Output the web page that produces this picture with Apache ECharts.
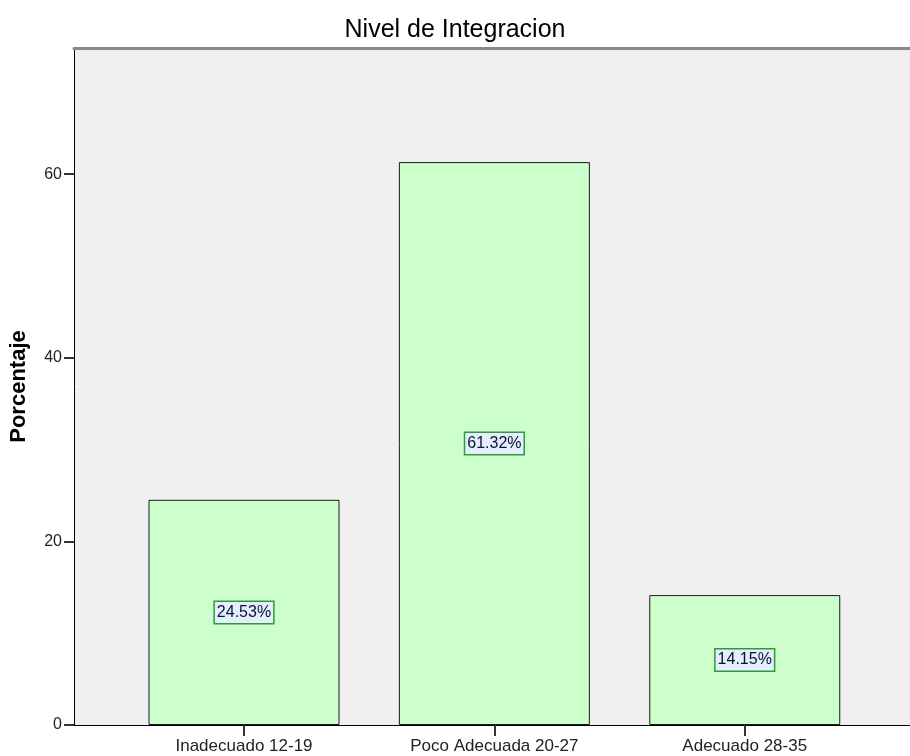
<!DOCTYPE html>
<html>
<head>
<meta charset="utf-8">
<script src="https://cdn.jsdelivr.net/npm/echarts@6/dist/echarts.min.js"></script>
<style>
  html, body { margin: 0; padding: 0; background: #fff; }
  #chart { width: 910px; height: 756px; }
</style>
</head>
<body>
<div id="chart"></div>
<script>
const categories = ['Inadecuado 12-19', 'Poco Adecuada 20-27', 'Adecuado 28-35']
const percentages = [24.53, 61.32, 14.15]
const yTicks = [0, 20, 40, 60]

const chart = echarts.init(document.getElementById('chart'))
const font = 'Liberation Sans, Arial, sans-serif'

chart.setOption({
  backgroundColor: '#ffffff',
  animation: false,
  title: {
    text: 'Nivel de Integracion',
    left: 'center',
    top: 13,
    textStyle: {
      fontFamily: font,
      fontSize: 25,
      fontWeight: 'normal',
      color: '#000'
    }
  },
  grid: {
    left: 74,
    right: -5,
    top: 48,
    bottom: 31,
    show: true,
    backgroundColor: '#f0f0f0',
    borderWidth: 0
  },
  xAxis: [
    {
      type: 'value',
      min: -0.679,
      max: 2.66,
      splitLine: { show: false },
      axisLine: { show: true, onZero: false, lineStyle: { color: '#000', width: 1 } },
      axisTick: {
        show: true,
        length: 11,
        customValues: [0, 1, 2],
        lineStyle: { color: '#333', width: 2 }
      },
      axisLabel: {
        customValues: [0, 1, 2],
        margin: 13,
        fontFamily: font,
        fontSize: 17,
        color: '#222',
        formatter: function(v) {
          return categories[Math.round(v)]
        }
      }
    },
    {
      type: 'value',
      position: 'top',
      min: -0.679,
      max: 2.66,
      splitLine: { show: false },
      axisLine: { show: true, onZero: false, lineStyle: { color: '#8a8a8a', width: 3 } },
      axisTick: { show: false },
      axisLabel: { show: false }
    }
  ],
  yAxis: {
    type: 'value',
    min: 0,
    max: 73.75,
    interval: 20,
    name: 'Porcentaje',
    nameLocation: 'middle',
    nameGap: 44,
    nameTextStyle: {
      fontFamily: font,
      fontSize: 22,
      fontWeight: 'bold',
      color: '#000'
    },
    splitLine: { show: false },
    axisLine: { show: true, onZero: false, lineStyle: { color: '#000', width: 1 } },
    axisTick: { show: true, length: 10, lineStyle: { color: '#333', width: 2 } },
    axisLabel: {
      showMaxLabel: false,
      margin: 12,
      fontFamily: font,
      fontSize: 16,
      color: '#222'
    }
  },
  series: [
    {
      type: 'bar',
      xAxisIndex: 0,
      barWidth: 191,
      data: percentages.map((v, i) => [i, v]),
      itemStyle: {
        color: '#ccffcc',
        borderColor: '#1a1a1a',
        borderWidth: 1
      },
      label: {
        show: true,
        position: 'inside',
        formatter: function(p) {
          return p.value[1].toFixed(2) + '%'
        },
        fontFamily: font,
        fontSize: 16,
        color: '#101030',
        backgroundColor: '#e3eeff',
        borderColor: '#2f9a3a',
        borderWidth: 1.5,
        padding: [3, 2, 2, 2]
      }
    }
  ]
})
</script>
</body>
</html>
